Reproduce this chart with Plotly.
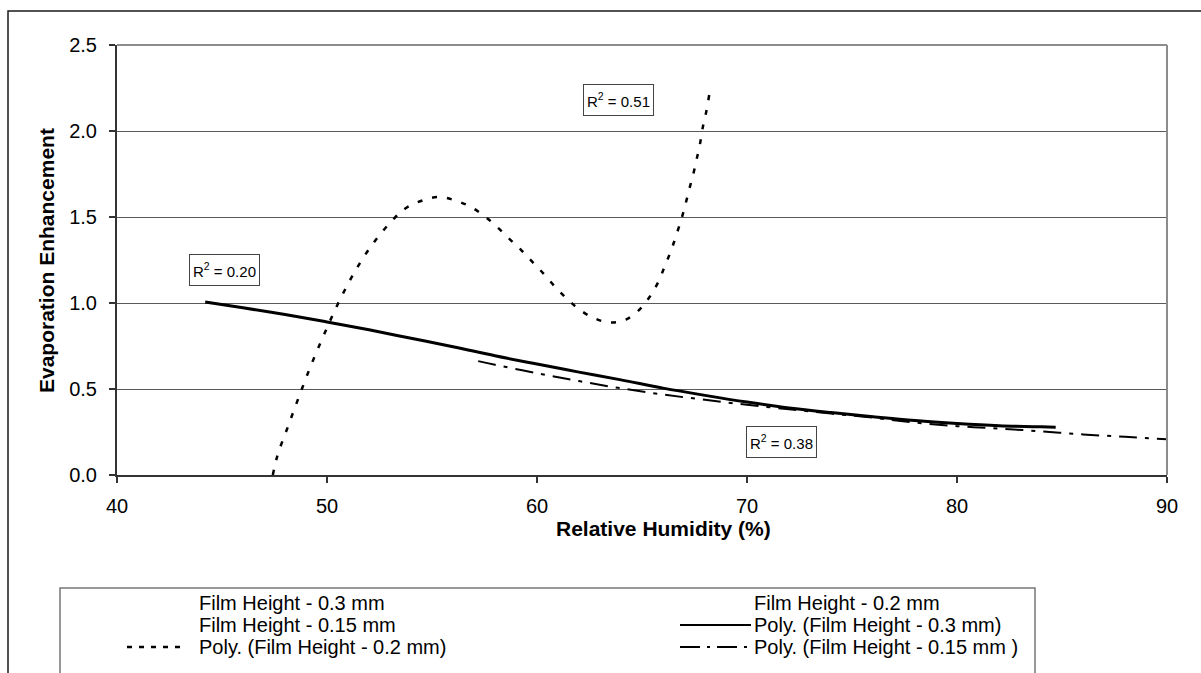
import plotly.graph_objects as go

# ---------------- data ----------------
x_ticks = [40, 50, 60, 70, 80, 90]
y_ticks = [0.0, 0.5, 1.0, 1.5, 2.0, 2.5]

# Poly. (Film Height - 0.3 mm)  -- solid
rh_poly_03 = [44.2, 46, 48, 50, 52, 54, 56, 58, 60, 62, 64, 66, 68, 70, 72, 74, 76, 78, 80, 82, 84, 84.7]
ee_poly_03 = [1.006, 0.972, 0.933, 0.890, 0.844, 0.795, 0.746, 0.693, 0.645, 0.598, 0.553, 0.505,
              0.463, 0.424, 0.390, 0.363, 0.339, 0.317, 0.300, 0.287, 0.280, 0.278]

# Poly. (Film Height - 0.2 mm)  -- dashed
rh_poly_02 = [47.42, 47.64, 48.16, 48.72, 49.27, 49.88, 50.54, 51.34, 52.21, 53.19, 53.80, 54.59,
              55.34, 56.05, 56.78, 57.50, 58.10, 58.72, 59.28, 59.78, 60.31, 60.87, 61.42, 62.02,
              62.77, 63.52, 64.23, 64.88, 65.36, 65.79, 66.10, 66.39, 66.63, 66.87, 67.06, 67.26,
              67.45, 67.61, 67.77, 67.90, 68.06, 68.20]
ee_poly_02 = [0.000, 0.113, 0.288, 0.473, 0.647, 0.822, 1.000, 1.186, 1.349, 1.491, 1.555, 1.598,
              1.617, 1.598, 1.563, 1.505, 1.442, 1.369, 1.303, 1.239, 1.171, 1.093, 1.026, 0.962,
              0.909, 0.886, 0.903, 0.962, 1.035, 1.126, 1.219, 1.307, 1.394, 1.485, 1.569, 1.666,
              1.753, 1.840, 1.931, 2.025, 2.112, 2.209]

# Poly. (Film Height - 0.15 mm ) -- dash-dot
rh_poly_015 = [57.2, 58, 60, 62, 64, 66, 68, 70, 72, 74, 76, 78, 80, 82, 84, 86, 88, 90]
ee_poly_015 = [0.662, 0.641, 0.592, 0.546, 0.504, 0.468, 0.437, 0.408, 0.382, 0.357, 0.333,
               0.305, 0.284, 0.270, 0.254, 0.236, 0.222, 0.208]

r2_text = ["R<sup>2</sup> = 0.20", "R<sup>2</sup> = 0.51", "R<sup>2</sup> = 0.38"]
r2_x = [45.1, 63.88, 71.63]
r2_y = [1.193, 2.182, 0.189]

legend_col1 = ["Film Height - 0.3 mm", "Film Height - 0.15 mm", "Poly. (Film Height - 0.2 mm)"]
legend_col2 = ["Film Height - 0.2 mm", "Poly. (Film Height - 0.3 mm)", "Poly. (Film Height - 0.15 mm )"]

x_title = "Relative Humidity (%)"
y_title = "Evaporation Enhancement"

# ---------------- styling ----------------
FONT = "Liberation Sans, Arial, sans-serif"
W, H = 1201, 673
ML, MR, MT, MB = 117, 34, 45, 198
PW, PH = W - ML - MR, H - MT - MB

def px_x(p):
    return (p - ML) / PW

def px_y(p):
    return (H - MB - p) / PH

style_03 = dict(color="black", width=3)
style_02 = dict(color="black", width=2.5, dash="5px,10px")
style_015 = dict(color="black", width=2, dash="18px,8px,4px,8px")

fig = go.Figure()
fig.add_trace(go.Scatter(x=rh_poly_03, y=ee_poly_03, mode="lines", line=style_03,
                         line_shape="spline", name=legend_col2[1], showlegend=False))
fig.add_trace(go.Scatter(x=rh_poly_02, y=ee_poly_02, mode="lines", line=style_02,
                         line_shape="spline", name=legend_col1[2], showlegend=False))
fig.add_trace(go.Scatter(x=rh_poly_015, y=ee_poly_015, mode="lines", line=style_015,
                         line_shape="spline", name=legend_col2[2], showlegend=False))

annotations = []
for t, x, y in zip(r2_text, r2_x, r2_y):
    annotations.append(dict(x=x, y=y, xref="x", yref="y", text=t, showarrow=False,
                            font=dict(family=FONT, size=15, color="black"),
                            bgcolor="white", bordercolor="#444444", borderwidth=1,
                            borderpad=3, width=63, height=24, align="center"))

# axis titles
annotations.append(dict(x=px_x(663), y=px_y(528), xref="paper", yref="paper", text="<b>%s</b>" % x_title,
                        showarrow=False, xanchor="center", yanchor="middle",
                        font=dict(family=FONT, size=21, color="black")))
annotations.append(dict(x=px_x(46), y=px_y(261), xref="paper", yref="paper", text="<b>%s</b>" % y_title,
                        showarrow=False, xanchor="center", yanchor="middle", textangle=-90,
                        font=dict(family=FONT, size=21, color="black")))

# legend texts
rows_px = [603, 625, 647]
for i, yp in enumerate(rows_px):
    for col_x, lab in ((197, legend_col1[i]), (752, legend_col2[i])):
        annotations.append(dict(x=px_x(col_x), y=px_y(yp), xref="paper", yref="paper", text=lab,
                                showarrow=False, xanchor="left", yanchor="middle",
                                font=dict(family=FONT, size=20, color="black")))

shapes = [
    # outer chart border
    dict(type="rect", xref="paper", yref="paper", x0=px_x(8), x1=px_x(1215), y0=px_y(11), y1=px_y(700),
         line=dict(color="#1a1a1a", width=1.5), layer="below"),
    # plot frame top and right (gray)
    dict(type="line", xref="paper", yref="paper", x0=0, x1=1, y0=1, y1=1,
         line=dict(color="#8c8c8c", width=2), layer="above"),
    dict(type="line", xref="paper", yref="paper", x0=1, x1=1, y0=0, y1=1,
         line=dict(color="#8c8c8c", width=2), layer="above"),
    # legend box
    dict(type="rect", xref="paper", yref="paper", x0=px_x(60), x1=px_x(1035), y0=px_y(588), y1=px_y(700),
         line=dict(color="#777777", width=1.5), fillcolor="white", layer="below"),
    # legend symbols
    dict(type="line", xref="paper", yref="paper", x0=px_x(127), x1=px_x(186), y0=px_y(647), y1=px_y(647),
         line=dict(color="black", width=2.5, dash="5px,7px")),
    dict(type="line", xref="paper", yref="paper", x0=px_x(680), x1=px_x(751), y0=px_y(625), y1=px_y(625),
         line=dict(color="black", width=2)),
    dict(type="line", xref="paper", yref="paper", x0=px_x(680), x1=px_x(751), y0=px_y(647), y1=px_y(647),
         line=dict(color="black", width=2, dash="20px,7px,3px,7px")),
]

fig.update_layout(
    width=W, height=H,
    margin=dict(l=ML, r=MR, t=MT, b=MB, pad=0),
    paper_bgcolor="white", plot_bgcolor="white",
    showlegend=False,
    font=dict(family=FONT, color="black"),
    annotations=annotations,
    shapes=shapes,
    xaxis=dict(range=[40, 90], tickvals=x_ticks, ticks="outside", ticklen=6, tickwidth=1.5,
               tickcolor="#333333", showline=True, linecolor="#333333", linewidth=2,
               showgrid=False, zeroline=False, tickfont=dict(family=FONT, size=20, color="black"),
               ticklabelstandoff=6, fixedrange=True),
    yaxis=dict(range=[0, 2.5], tickvals=y_ticks, tickformat=".1f", ticks="outside", ticklen=6,
               tickwidth=1.5, tickcolor="#333333", showline=True, linecolor="#333333", linewidth=2,
               showgrid=True, gridcolor="#5a5a5a", gridwidth=1, zeroline=False,
               tickfont=dict(family=FONT, size=20, color="black"), ticklabelstandoff=8,
               fixedrange=True),
)

fig.write_html("out.html", config={"displayModeBar": False})
